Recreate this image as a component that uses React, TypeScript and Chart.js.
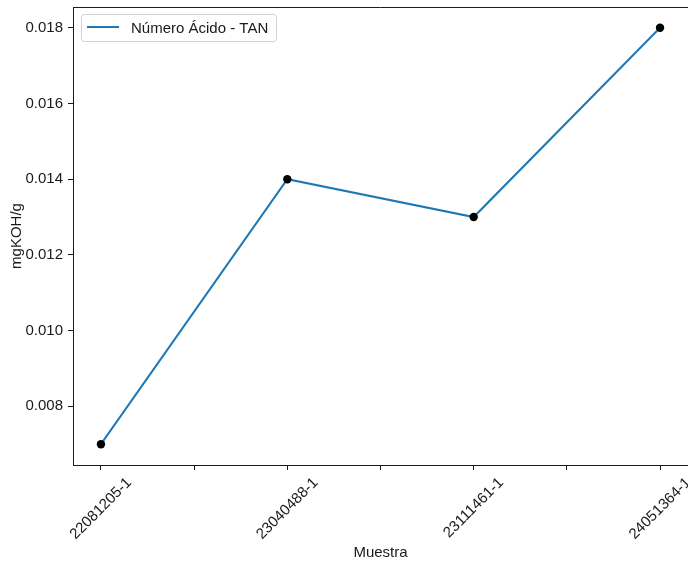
import React, { useEffect, useRef } from 'react';
import { Chart, registerables } from 'chart.js';

Chart.register(...registerables);

const categories = ['22081205-1', '23040488-1', '23111461-1', '24051364-1'];
const tanValues = [0.007, 0.014, 0.013, 0.018];
const yTickValues = [0.008, 0.01, 0.012, 0.014, 0.016, 0.018];
const xTickValues = [0, 0.5, 1, 1.5, 2, 2.5, 3];
const seriesLabel = 'Número Ácido - TAN';
const xTitle = 'Muestra';
const yTitle = 'mgKOH/g';

const FONT = '"Liberation Sans", Arial, Helvetica, sans-serif';
const FONT_SIZE = 15;
const INK = '#1a1a1a';
const LINE_COLOR = '#1f77b4';

const decorPlugin = {
  id: 'decor',
  afterDraw(chart: any) {
    const { ctx, chartArea: a, scales } = chart;
    ctx.save();
    // top spine
    ctx.strokeStyle = INK;
    ctx.lineWidth = 1;
    ctx.beginPath();
    ctx.moveTo(a.left, a.top + 0.5);
    ctx.lineTo(a.right, a.top + 0.5);
    ctx.stroke();

    // rotated category labels, centred on ticks
    ctx.font = `${FONT_SIZE}px ${FONT}`;
    ctx.fillStyle = INK;
    categories.forEach((c, i) => {
      const x = scales.x.getPixelForValue(i);
      const w = ctx.measureText(c).width;
      const h = 15;
      const cy = a.bottom + 10 + ((w + h) * Math.SQRT1_2) / 2;
      ctx.save();
      ctx.translate(x, cy);
      ctx.rotate(-Math.PI / 4);
      ctx.textAlign = 'center';
      ctx.textBaseline = 'middle';
      ctx.fillText(c, 0, 0);
      ctx.restore();
    });

    // axis titles
    ctx.textAlign = 'center';
    ctx.textBaseline = 'alphabetic';
    ctx.fillText(xTitle, (a.left + a.right) / 2, 557);
    ctx.save();
    ctx.translate(21, (a.top + a.bottom) / 2);
    ctx.rotate(-Math.PI / 2);
    ctx.fillText(yTitle, 0, 0);
    ctx.restore();

    // legend
    const bx = 81.5, by = 14.5, bw = 195, bh = 27, r = 3;
    ctx.beginPath();
    ctx.moveTo(bx + r, by);
    ctx.lineTo(bx + bw - r, by);
    ctx.arcTo(bx + bw, by, bx + bw, by + r, r);
    ctx.lineTo(bx + bw, by + bh - r);
    ctx.arcTo(bx + bw, by + bh, bx + bw - r, by + bh, r);
    ctx.lineTo(bx + r, by + bh);
    ctx.arcTo(bx, by + bh, bx, by + bh - r, r);
    ctx.lineTo(bx, by + r);
    ctx.arcTo(bx, by, bx + r, by, r);
    ctx.closePath();
    ctx.fillStyle = 'rgba(255,255,255,0.8)';
    ctx.fill();
    ctx.strokeStyle = '#d0d0d0';
    ctx.lineWidth = 1;
    ctx.stroke();
    const ds = chart.data.datasets[1];
    ctx.strokeStyle = ds.borderColor;
    ctx.lineWidth = 2;
    ctx.beginPath();
    ctx.moveTo(87, 27);
    ctx.lineTo(119, 27);
    ctx.stroke();
    ctx.fillStyle = INK;
    ctx.textAlign = 'left';
    ctx.fillText(ds.label, 131, 32.5);
    ctx.restore();
  },
};

export default function App() {
  const ref = useRef<HTMLCanvasElement | null>(null);
  useEffect(() => {
    document.body.style.margin = '0';
    const canvas = ref.current;
    if (!canvas) return;
    const points = tanValues.map((v, i) => ({ x: i, y: v }));
    const chart = new Chart(canvas, {
      type: 'line',
      data: {
        datasets: [
          {
            label: 'points',
            data: points,
            showLine: false,
            pointRadius: 4.2,
            pointBackgroundColor: '#000',
            pointBorderColor: '#000',
            pointBorderWidth: 0,
            order: 0,
          },
          {
            label: seriesLabel,
            data: points,
            borderColor: LINE_COLOR,
            backgroundColor: LINE_COLOR,
            borderWidth: 2,
            pointRadius: 0,
            tension: 0,
            order: 1,
          },
        ],
      },
      options: {
        animation: false,
        responsive: false,
        devicePixelRatio: 1,
        layout: { autoPadding: false, padding: { top: 7, left: 0, right: 0, bottom: 0 } },
        plugins: { legend: { display: false }, tooltip: { enabled: false } },
        scales: {
          x: {
            type: 'linear',
            min: -0.15,
            max: 3.15,
            afterBuildTicks: (s: any) => {
              s.ticks = xTickValues.map((v) => ({ value: v }));
            },
            afterFit: (s: any) => {
              s.height = 99;
              s.paddingLeft = 0;
              s.paddingRight = 0;
            },
            ticks: { display: false },
            grid: {
              drawOnChartArea: false,
              drawTicks: true,
              tickLength: 5,
              tickColor: INK,
              tickWidth: 1,
            },
            border: { display: true, color: INK, width: 1 },
          },
          y: {
            type: 'linear',
            min: 0.00645,
            max: 0.01855,
            afterBuildTicks: (s: any) => {
              s.ticks = yTickValues.map((v) => ({ value: v }));
            },
            afterFit: (s: any) => {
              s.width = 73;
              s.paddingTop = 0;
              s.paddingBottom = 0;
            },
            ticks: {
              padding: 5,
              color: INK,
              font: { family: FONT, size: FONT_SIZE },
              callback: (v: any) => Number(v).toFixed(3),
            },
            grid: {
              drawOnChartArea: false,
              drawTicks: true,
              tickLength: 5,
              tickColor: INK,
              tickWidth: 1,
            },
            border: { display: true, color: INK, width: 1 },
          },
        },
      },
      plugins: [decorPlugin],
    });
    return () => chart.destroy();
  }, []);
  return (
    <div style={{ width: 688, height: 564 }}>
      <canvas ref={ref} width={688} height={564} style={{ display: 'block' }} />
    </div>
  );
}
